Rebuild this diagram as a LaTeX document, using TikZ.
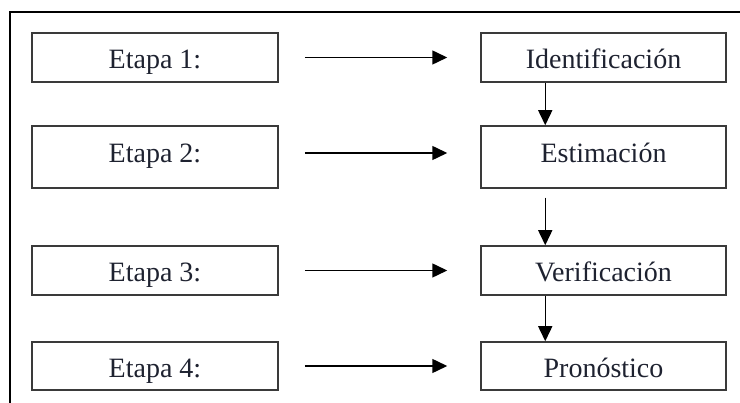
\documentclass[tikz,border=0pt]{standalone}
\usepackage{fontspec}
\setmainfont{Liberation Serif}
\usetikzlibrary{arrows.meta}

\definecolor{boxline}{HTML}{3A3A3A}
\definecolor{labeltext}{HTML}{1E2230}

\tikzset{
  x=1pt, y=1pt,
  stagebox/.style={draw=boxline, line width=1.5pt, inner sep=0pt,
    text=labeltext, font=\fontsize{28}{31}\selectfont,
    text height=23pt, text depth=0pt},
  tallrow/.style={text height=11pt},
  leftbox/.style={stagebox, minimum width=246pt},
  rightbox/.style={stagebox, minimum width=245pt},
  flow/.style={line width=1.5pt,
    -{Triangle[length=15pt, width=14pt]}},
  frameline/.style={line width=1.6pt, black}
}

\begin{document}
\begin{tikzpicture}
  \useasboundingbox (0,0) rectangle (740,-403);

  % open frame: top and left edges only
  \coordinate (fa) at (10,-403);
  \coordinate (fb) at (10,-12);
  \coordinate (fc) at (740,-12);
  \draw[frameline] (fa) -- (fb) -- (fc);

  % stage labels
  \node[leftbox, minimum height=49pt] (L1) at (155,-57.5) {Etapa 1:};
  \node[leftbox, tallrow, minimum height=62pt] (L2) at (155,-157)  {Etapa 2:};
  \node[leftbox, minimum height=49pt] (L3) at (155,-270.5) {Etapa 3:};
  \node[leftbox, minimum height=48pt] (L4) at (155,-366)  {Etapa 4:};

  % process steps
  \node[rightbox, minimum height=49pt] (R1) at (603.5,-57.5) {Identificación};
  \node[rightbox, tallrow, minimum height=62pt] (R2) at (603.5,-157)  {Estimación};
  \node[rightbox, minimum height=49pt] (R3) at (603.5,-270.5) {Verificación};
  \node[rightbox, minimum height=48pt] (R4) at (603.5,-366)  {Pronóstico};

  % stage -> step arrows
  \draw[flow, shorten <=26pt, shorten >=33pt] (L1.east) -- (R1.west);
  \draw[flow, shorten <=26pt, shorten >=33pt]
    ([yshift=4pt]L2.east) -- ([yshift=4pt]R2.west);
  \draw[flow, shorten <=26pt, shorten >=33pt] (L3.east) -- (R3.west);
  \draw[flow, shorten <=26pt, shorten >=33pt] (L4.east) -- (R4.west);

  % step -> step arrows
  \draw[flow] ([xshift=65pt]R1.south west) -- ([xshift=65pt]R2.north west);
  \draw[flow, shorten <=9pt] ([xshift=65pt]R2.south west) -- ([xshift=65pt]R3.north west);
  \draw[flow] ([xshift=65pt]R3.south west) -- ([xshift=65pt]R4.north west);
\end{tikzpicture}
\end{document}
